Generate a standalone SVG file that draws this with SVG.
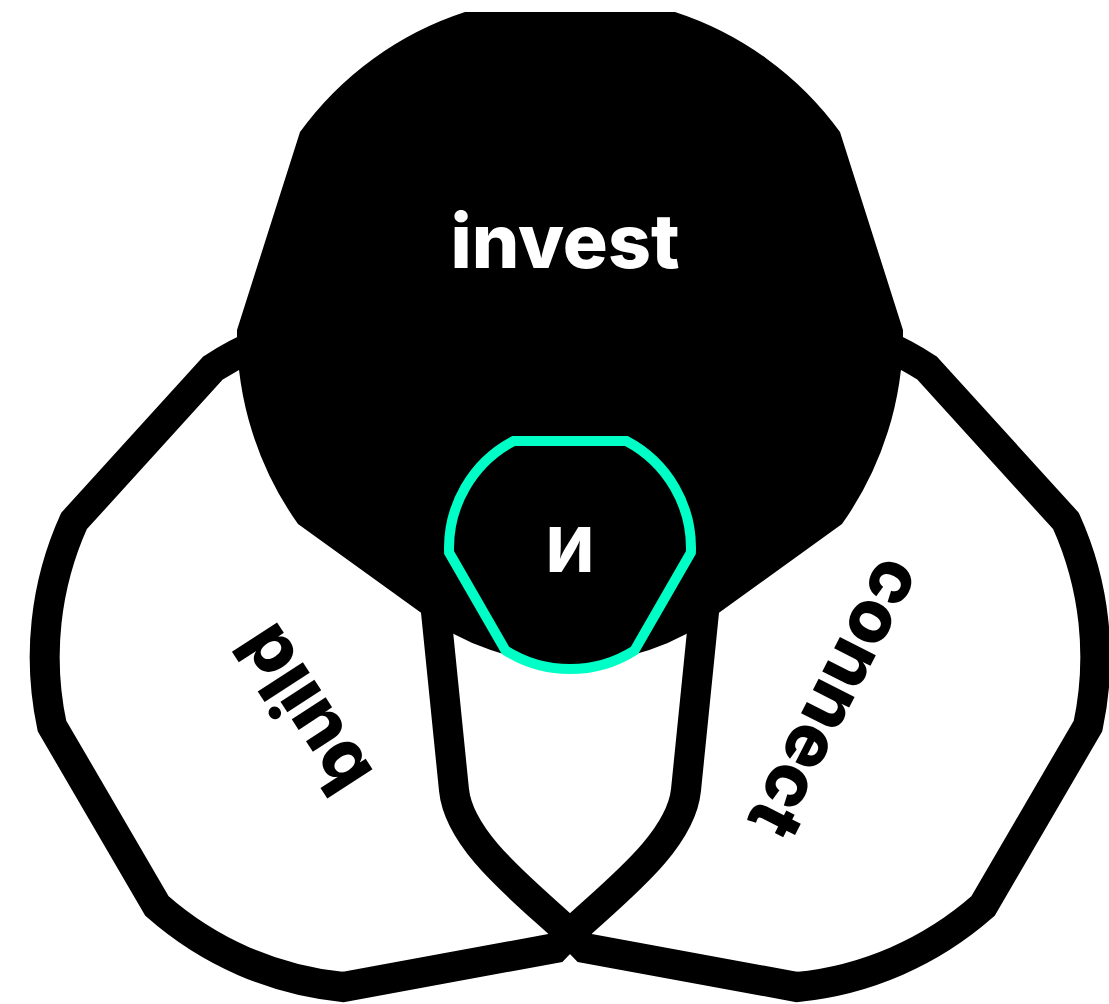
<svg xmlns="http://www.w3.org/2000/svg" width="1109" height="1004" viewBox="0 0 1109 1004">
<defs>
<style>
.outline{fill:none;stroke:#000;stroke-width:30;stroke-linejoin:miter}
.lbl{font-family:Inter,"Liberation Sans",sans-serif;font-weight:800;text-anchor:middle}
</style>
<path id="petal" d="M 717,480 L 704,612 L 686,790 C 680,848 600,902 555,948 L 343,987 A 330 330 0 0 1 157,906 L 52,726 A 330 330 0 0 1 74,521 L 213,368 A 330 330 0 0 1 406,316 Z"/>
</defs>
<rect width="1109" height="1004" fill="#fff"/>
<g id="build">
<use href="#petal" class="outline"/>
<text class="lbl" font-size="74" fill="#000" transform="translate(303,710) rotate(237)" y="26">build</text>
</g>
<g id="connect">
<use href="#petal" class="outline" transform="matrix(-1 0 0 1 1140 0)"/>
<text class="lbl" font-size="74" fill="#000" transform="translate(834,697) rotate(117)" y="22">connect</text>
</g>
<g id="invest">
<path d="M 465,12 L 675,12 A 330 330 0 0 1 840,132 L 903,330 A 330 330 0 0 1 842,524 L 720,612 A 245 245 0 0 1 420,612 L 298,524 A 330 330 0 0 1 237,330 L 300,132 A 330 330 0 0 1 465,12 Z" fill="#000"/>
<text class="lbl" font-size="75" fill="#fff" x="565" y="268">invest</text>
</g>
<g id="core">
<path d="M 513.6,441 L 626.4,441 A 121 121 0 0 1 690.9,552.6 L 634.5,650.4 A 121 121 0 0 1 505.5,650.4 L 449.1,552.6 A 121 121 0 0 1 513.6,441 Z" fill="#000" stroke="#00FFC6" stroke-width="10" stroke-linejoin="miter"/>
<text class="lbl" font-size="62" fill="#fff" x="570" y="572">И</text>
</g>
<g id="connectors"></g>
</svg>
